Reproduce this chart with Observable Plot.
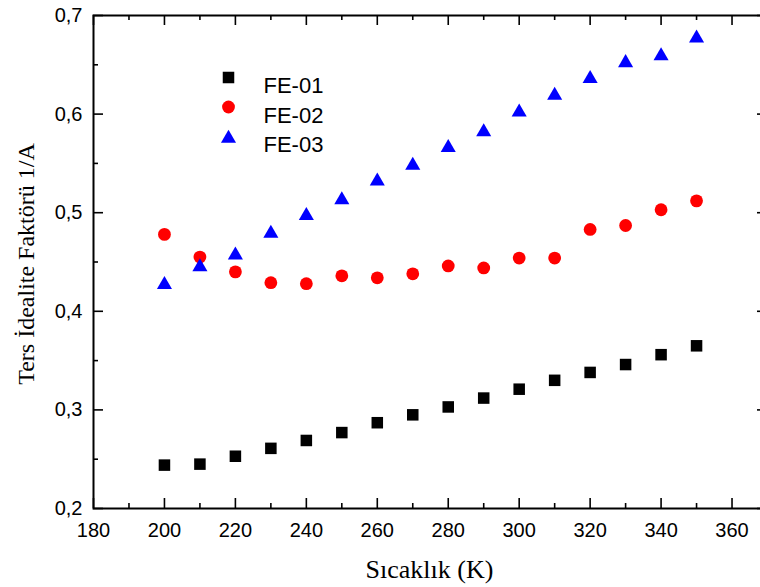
<!DOCTYPE html>
<html>
<head>
<meta charset="utf-8">
<script src="https://cdn.jsdelivr.net/npm/d3@7"></script>
<script src="https://cdn.jsdelivr.net/npm/@observablehq/plot@0.6"></script>
<style>
html, body { margin: 0; padding: 0; background: #fff; overflow: hidden; }
#wrap { width: 760px; height: 587px; overflow: hidden; }
#wrap svg { max-width: none !important; height: 587px !important; display: block; }
</style>
</head>
<body>
<div id="wrap"></div>
<script>
// ---- Data ----
const temperatures = [200, 210, 220, 230, 240, 250, 260, 270, 280, 290, 300, 310, 320, 330, 340, 350];
const fe01 = [0.244, 0.245, 0.253, 0.261, 0.269, 0.277, 0.287, 0.295, 0.303, 0.312, 0.321, 0.330, 0.338, 0.346, 0.356, 0.365];
const fe02 = [0.478, 0.455, 0.440, 0.429, 0.428, 0.436, 0.434, 0.438, 0.446, 0.444, 0.454, 0.454, 0.483, 0.487, 0.503, 0.512];
const fe03 = [0.427, 0.445, 0.457, 0.479, 0.497, 0.513, 0.532, 0.548, 0.566, 0.582, 0.602, 0.619, 0.636, 0.652, 0.659, 0.677];
const seriesNames = ["FE-01", "FE-02", "FE-03"];
const seriesColors = ["#000000", "#ff0000", "#0000ff"];
const seriesSymbols = ["square", "circle", "triangle"];
const seriesRadii = [6.5, 6.4, 5.6];
const xMajorTicks = [180, 200, 220, 240, 260, 280, 300, 320, 340, 360];
const xMinorTicks = [190, 210, 230, 250, 270, 290, 310, 330, 350, 370];
const yMajorTicks = [0.2, 0.3, 0.4, 0.5, 0.6, 0.7];
const yMinorTicks = [0.25, 0.35, 0.45, 0.55, 0.65];
const xTitle = "Sıcaklık (K)";
const yTitle = "Ters İdealite Faktörü 1/A";

// ---- Layout ----
const W = 767, H = 587, mL = 93, mT = 15, mB = 79, mR = 0;
const innerW = W - mL - mR, innerH = H - mT - mB;
const sans = "Liberation Sans, Arial, Helvetica, sans-serif";
const serif = "Liberation Serif, Times New Roman, serif";

const seriesData = [fe01, fe02, fe03].map((vals, s) =>
  vals.map((v, i) => ({series: seriesNames[s], t: temperatures[i], v}))
);

const marks = [];

// data markers
seriesData.forEach((rows, s) => {
  marks.push(Plot.dot(rows, {
    x: "t", y: "v",
    symbol: seriesSymbols[s], fill: seriesColors[s], r: seriesRadii[s]
  }));
});

// inward ticks on all four sides
const tickStyle = {stroke: "black", strokeWidth: 1.6};
marks.push(
  Plot.tickX(xMajorTicks, {x: d => d, insetTop: innerH - 10, ...tickStyle}),
  Plot.tickX(xMinorTicks, {x: d => d, insetTop: innerH - 5, ...tickStyle}),
  Plot.tickX(xMajorTicks, {x: d => d, insetBottom: innerH - 10, ...tickStyle}),
  Plot.tickX(xMinorTicks, {x: d => d, insetBottom: innerH - 5, ...tickStyle}),
  Plot.tickY(yMajorTicks, {y: d => d, insetRight: innerW - 10, ...tickStyle}),
  Plot.tickY(yMinorTicks, {y: d => d, insetRight: innerW - 5, ...tickStyle}),
  Plot.tickY(yMajorTicks, {y: d => d, insetLeft: innerW - 10, ...tickStyle}),
  Plot.tickY(yMinorTicks, {y: d => d, insetLeft: innerW - 5, ...tickStyle})
);

// frame
marks.push(Plot.frame({stroke: "black", strokeWidth: 2}));

// tick labels
marks.push(
  Plot.axisX(xMajorTicks, {
    tickSize: 0, tickPadding: 14, fontSize: 20, fontFamily: sans,
    tickFormat: d => String(d), label: null
  }),
  Plot.axisY(yMajorTicks, {
    tickSize: 0, tickPadding: 11, fontSize: 20, fontFamily: sans,
    tickFormat: d => d.toFixed(1).replace(".", ","), label: null
  })
);

// axis titles
marks.push(
  Plot.text([xTitle], {
    text: d => d, frameAnchor: "bottom", textAnchor: "middle", lineAnchor: "bottom",
    dy: 69, dx: -1, fontSize: 26, fontFamily: serif, fill: "black"
  }),
  Plot.text([yTitle], {
    text: d => d, frameAnchor: "left", textAnchor: "middle", lineAnchor: "bottom", rotate: -90,
    dx: -60, dy: 2, fontSize: 24, fontFamily: serif, fill: "black"
  })
);

// legend (inside the plot area)
seriesNames.forEach((name, i) => {
  const rowDy = 62 + i * 29.5;
  marks.push(
    Plot.dot([name], {
      frameAnchor: "top-left", dx: 228 - mL, dy: rowDy + (seriesSymbols[i] === "triangle" ? 2 : 0),
      symbol: seriesSymbols[i], fill: seriesColors[i], r: seriesRadii[i]
    }),
    Plot.text([name], {
      text: d => d, frameAnchor: "top-left", textAnchor: "start",
      dx: 263 - mL, dy: rowDy, fontSize: 22, fontFamily: sans, fill: "black"
    })
  );
});

const chart = Plot.plot({
  width: W, height: H,
  marginLeft: mL, marginRight: mR, marginTop: mT, marginBottom: mB,
  x: {domain: [180, 370], label: null},
  y: {domain: [0.2, 0.7], label: null},
  style: {background: "white", color: "black", fontFamily: sans, overflow: "visible", maxWidth: "none"},
  marks
});
document.getElementById("wrap").appendChild(chart);
</script>
</body>
</html>
